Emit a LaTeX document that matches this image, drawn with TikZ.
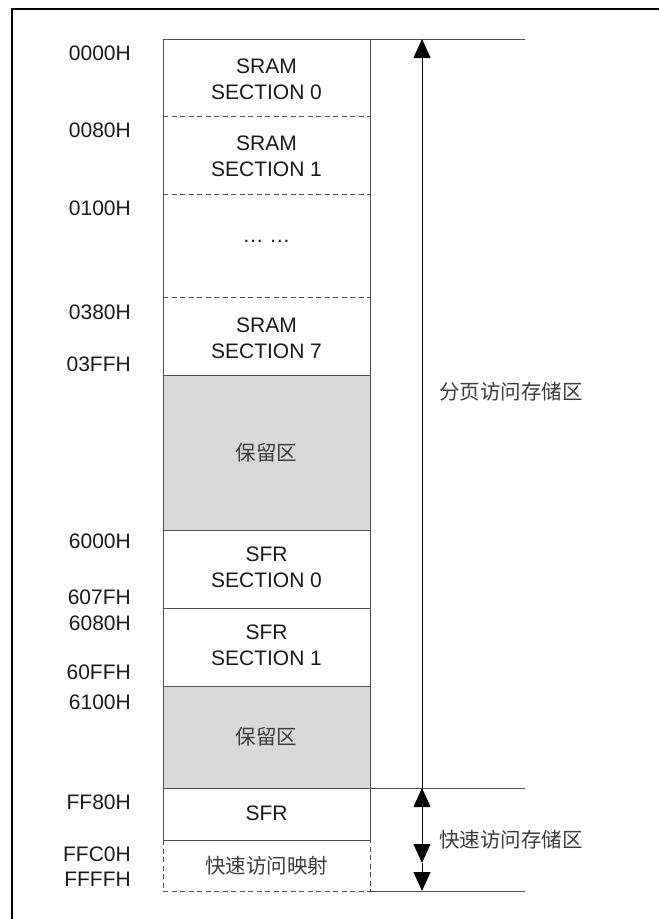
\documentclass[tikz,border=0pt]{standalone}
\usepackage{fontspec}
\setmainfont{Liberation Sans}
\newfontfamily\cjk{Noto Sans CJK SC}
\usetikzlibrary{arrows.meta}
\definecolor{lc}{HTML}{505050}
\definecolor{rsv}{HTML}{D9D9D9}
\definecolor{tx}{HTML}{1A1A1A}
\tikzset{
  lbl/.style={anchor=east, inner sep=0pt, text=tx, font=\fontsize{21}{25}\selectfont},
  boxtxt/.style={align=center, inner sep=0pt, text=tx, font=\fontsize{21}{26}\selectfont},
  cjktxt/.style={inner sep=0pt, text=tx!85!white, font=\cjk\fontsize{20.5}{25}\selectfont},
  wall/.style={draw=lc, line width=0.9pt},
  dashwall/.style={draw=lc, line width=0.9pt, dash pattern=on 5pt off 3.5pt},
  dimline/.style={draw=black, line width=0.9pt},
  head/.style={-{Triangle[length=19pt,width=17pt]}},
  twohead/.style={{Triangle[length=19pt,width=17pt]}-{Triangle[length=19pt,width=17pt]}}
}
\begin{document}
\begin{tikzpicture}[x=1pt,y=-1pt]
\useasboundingbox (0,0) rectangle (659,919);
% outer frame (only top and left inside the page)
\draw[line width=2pt] (12,940) -- (12,9) -- (680,9);
% reserved fills
\fill[rsv] (163,375) rectangle (370,530);
\fill[rsv] (163,686) rectangle (370,788);
% column walls
\draw[wall] (163,39) -- (525,39);
\draw[wall] (163,39) -- (163,840);
\draw[wall] (370,39) -- (370,840);
\foreach \yy in {375,530,608,686,840} \draw[wall] (163,\yy) -- (370,\yy);
\draw[wall] (163,788) -- (525,788);
\draw[wall] (370,891) -- (525,891);
\foreach \yy in {116,194,297} \draw[dashwall] (163,\yy) -- (370,\yy);
\draw[dashwall] (163,840) -- (163,891) -- (370,891) -- (370,840);
% box texts
\node[boxtxt] (s0) at (266.5,79.5) {SRAM\\SECTION 0};
\node[boxtxt] (s1) at (266.5,156) {SRAM\\SECTION 1};
\node[boxtxt] (sd) at (266.5,241) {… …};
\node[boxtxt] (s7) at (266.5,338) {SRAM\\SECTION 7};
\node[cjktxt] (r1) at (266.5,453) {保留区};
\node[boxtxt] (f0) at (266.5,567.5) {SFR\\SECTION 0};
\node[boxtxt] (f1) at (266.5,645.5) {SFR\\SECTION 1};
\node[cjktxt] (r2) at (266.5,737) {保留区};
\node[boxtxt] (sfr) at (266.5,813) {SFR};
\node[cjktxt] (map) at (266.5,866) {快速访问映射};
% address labels
\node[lbl] (a0) at (131,53) {0000H};
\node[lbl] (a1) at (131,130) {0080H};
\node[lbl] (a2) at (131,208) {0100H};
\node[lbl] (a3) at (131,312) {0380H};
\node[lbl] (a4) at (131,364) {03FFH};
\node[lbl] (a5) at (131,541) {6000H};
\node[lbl] (a6) at (131,597) {607FH};
\node[lbl] (a7) at (131,623) {6080H};
\node[lbl] (a8) at (131,672) {60FFH};
\node[lbl] (a9) at (131,702) {6100H};
\node[lbl] (a10) at (131,802) {FF80H};
\node[lbl] (a11) at (131,854) {FFC0H};
\node[lbl] (a12) at (131,879) {FFFFH};
% dimension arrows
\coordinate (p0) at (422,39);
\coordinate (p1) at (422,788);
\coordinate (p2) at (422,863);
\coordinate (p3) at (422,891);
\draw[dimline, head] (p1) -- (p0);
\draw[dimline, twohead] (p1) -- (p2);
\draw[dimline, head] (p2) -- (p3);
\node[cjktxt, anchor=west] (t1) at (439,392) {分页访问存储区};
\node[cjktxt, anchor=west] (t2) at (439,840) {快速访问存储区};
\end{tikzpicture}
\end{document}
